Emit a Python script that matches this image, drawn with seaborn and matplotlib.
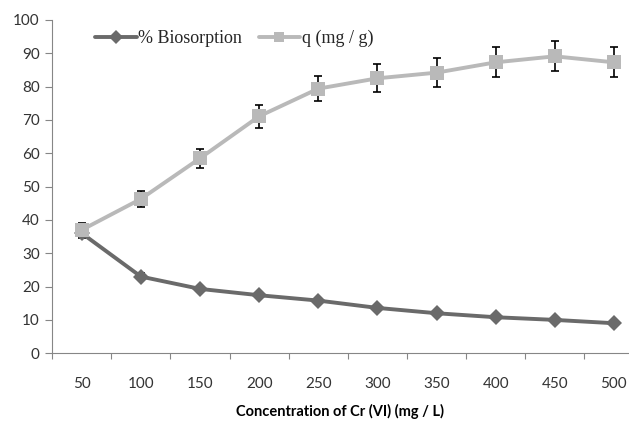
import matplotlib
matplotlib.use("Agg")
import matplotlib.pyplot as plt
import numpy as np
import pandas as pd
import seaborn as sns

# values
concentration = [50, 100, 150, 200, 250, 300, 350, 400, 450, 500]
biosorption = [36.0, 23.0, 19.3, 17.4, 15.8, 13.6, 12.0, 10.8, 10.0, 9.0]
biosorption_err = [1.5, 1.0, 0.8, 0.7, 0.6, 0.6, 0.5, 0.5, 0.5, 0.4]
q_uptake = [37.0, 46.3, 58.5, 71.1, 79.4, 82.5, 84.2, 87.3, 89.1, 87.3]
q_err = [2.2, 2.3, 2.9, 3.4, 3.8, 4.2, 4.3, 4.5, 4.5, 4.5]

df = pd.DataFrame({
    "conc": concentration * 2,
    "value": biosorption + q_uptake,
    "series": ["% Biosorption"] * 10 + ["q (mg / g)"] * 10,
})

sns.set_style("white")
plt.rcParams["font.family"] = ["Lato", "DejaVu Sans"]

fig = plt.figure(figsize=(6.29, 4.21), dpi=100)
ax = fig.add_axes([0.083, 0.161, 0.94, 0.7915])

# error bars first so the markers sit on top
ax.errorbar(concentration, biosorption, yerr=biosorption_err, fmt="none",
            ecolor="black", elinewidth=1.2, capsize=3, capthick=1.2, zorder=2)
ax.errorbar(concentration, q_uptake, yerr=q_err, fmt="none",
            ecolor="black", elinewidth=1.2, capsize=3, capthick=1.2, zorder=2)

sns.lineplot(data=df, x="conc", y="value", hue="series", style="series",
             palette={"% Biosorption": "#6a6a6a", "q (mg / g)": "#b9b9b9"},
             markers={"% Biosorption": "D", "q (mg / g)": "s"},
             dashes=False, linewidth=2.8, markeredgewidth=0,
             ax=ax, zorder=3)
# bigger squares than diamonds, like the original
for ln in ax.lines:
    if ln.get_marker() == "s":
        ln.set_markersize(10)
    elif ln.get_marker() == "D":
        ln.set_markersize(8)

ax.set_xlim(25, 525)
ax.set_ylim(0, 100)
ax.set_yticks(np.arange(0, 101, 10))
ax.set_xticks(np.arange(25, 526, 50))
ax.set_xticklabels([])
ax.set_xticks(concentration, minor=True)
ax.set_xticklabels([str(c) for c in concentration], minor=True)
ax.tick_params(axis="x", which="major", length=4, width=0.8, color="#868686", direction="out", bottom=True)
ax.tick_params(axis="x", which="minor", length=0, pad=17, labelsize=11, labelcolor="#333333")
ax.tick_params(axis="y", length=5, width=0.8, color="#868686", direction="out", left=True,
               labelsize=11, labelcolor="#333333", pad=4)

for side in ["top", "right"]:
    ax.spines[side].set_visible(False)
for side in ["left", "bottom"]:
    ax.spines[side].set_color("#868686")
    ax.spines[side].set_linewidth(0.8)

ax.set_ylabel("")
ax.set_xlabel("")
fig.text(0.54, 0.023, "Concentration of Cr (VI) (mg / L)", ha="center", va="center",
         fontsize=10.5, fontweight="bold", color="black")

leg = ax.legend(loc="upper left", bbox_to_anchor=(0.045, 1.02), ncol=2, frameon=False,
                handlelength=2.3, handletextpad=0.1, columnspacing=0.9,
                prop={"family": "Liberation Serif", "size": 13})
for h in leg.legend_handles:
    h.set_markersize(7)

fig.savefig("out.png", dpi=100)
